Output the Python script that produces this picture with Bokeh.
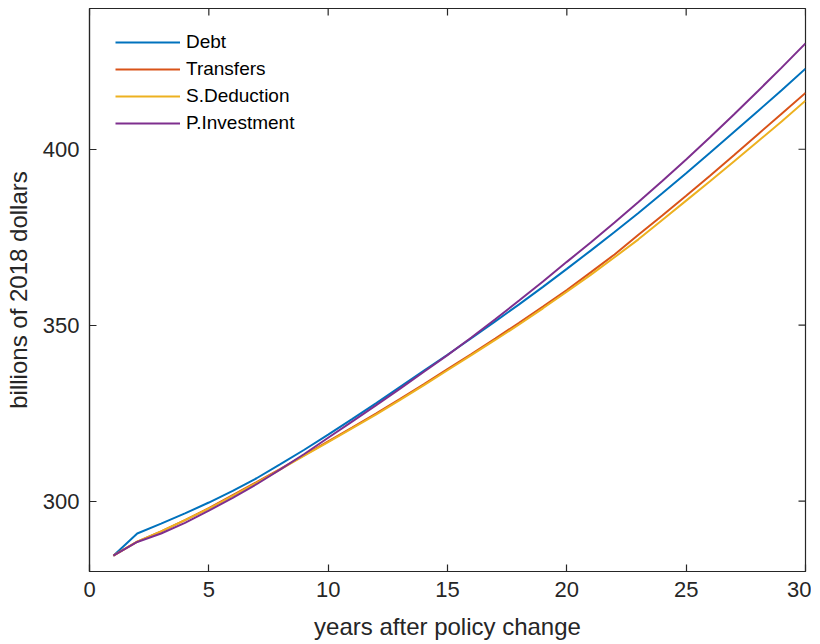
import math
from bokeh.plotting import figure
from bokeh.models import Range1d, FixedTicker, Legend, LegendItem
from bokeh.embed import file_html
from bokeh.resources import INLINE

years = list(range(1, 31))

debt = [284.5, 290.8, 293.6, 296.5, 299.6, 302.9, 306.5, 310.5, 314.6, 318.9,
        323.3, 327.8, 332.4, 337.0, 341.6, 346.3, 351.1, 355.9, 360.9, 366.0,
        371.2, 376.5, 381.9, 387.5, 393.2, 399.0, 404.9, 410.8, 416.8, 422.9]
transfers = [284.5, 288.5, 291.4, 294.6, 298.0, 301.7, 305.4, 309.2, 313.1, 317.0,
             320.9, 324.9, 329.0, 333.2, 337.5, 341.8, 346.2, 350.7, 355.3, 360.0,
             365.0, 370.1, 375.7, 381.2, 386.8, 392.5, 398.3, 404.2, 410.1, 416.0]
s_deduction = [284.5, 288.5, 291.4, 294.6, 297.9, 301.5, 305.2, 309.0, 312.9, 316.8,
               320.7, 324.6, 328.7, 332.9, 337.2, 341.5, 345.8, 350.2, 354.8, 359.5,
               364.3, 369.3, 374.4, 379.9, 385.4, 390.9, 396.5, 402.2, 407.9, 413.8]
p_investment = [284.5, 288.4, 290.8, 293.8, 297.3, 300.9, 304.8, 309.0, 313.4, 318.0,
                322.6, 327.2, 331.9, 336.7, 341.5, 346.5, 351.7, 357.0, 362.4, 368.0,
                373.5, 379.2, 385.0, 391.0, 397.1, 403.4, 409.9, 416.5, 423.2, 430.1]

series_names = ["Debt", "Transfers", "S.Deduction", "P.Investment"]
series_values = [debt, transfers, s_deduction, p_investment]
colors = ["#0072BD", "#D95319", "#EDB120", "#7E2F8E"]

x_ticks = [0, 5, 10, 15, 20, 25, 30]
y_ticks = [300, 350, 400]
x_min, x_max = 0, 30
y_min, y_max = 280, 440

FONT = "Liberation Sans"
AX = "#262626"
TICK_LEN = 7

p = figure(width=811, height=643, output_backend="svg", toolbar_location=None,
           x_range=Range1d(x_min, x_max), y_range=Range1d(y_min, y_max),
           min_border_left=89, min_border_right=6, min_border_top=8, min_border_bottom=72)
p.grid.visible = False
p.outline_line_color = AX
p.outline_line_width = 1.2

items = []
for name, vals, c in zip(series_names, series_values, colors):
    r = p.line(years, vals, line_color=c, line_width=2)
    items.append(LegendItem(label=name, renderers=[r]))

for ax, ticks in ((p.xaxis[0], x_ticks), (p.yaxis[0], y_ticks)):
    ax.ticker = FixedTicker(ticks=ticks)
    ax.major_tick_in = TICK_LEN
    ax.major_tick_out = 0
    ax.minor_tick_line_color = None
    ax.axis_line_color = AX
    ax.major_tick_line_color = AX
    ax.major_tick_line_width = 1.2
    ax.axis_line_width = 1.2
    ax.major_label_text_font = FONT
    ax.major_label_text_font_size = "22px"
    ax.major_label_text_color = AX
    ax.axis_label_text_font = FONT
    ax.axis_label_text_font_size = "24px"
    ax.axis_label_text_font_style = "normal"
    ax.axis_label_text_color = AX
    ax.major_label_standoff = 10

p.xaxis[0].axis_label = "years after policy change"
p.xaxis[0].axis_label_standoff = 13
p.yaxis[0].axis_label = "billions of 2018 dollars"
p.yaxis[0].axis_label_standoff = 8

# inward ticks on the top and right edges of the box (MATLAB "box on")
p.ray(x=x_ticks, y=[y_max] * len(x_ticks), length=TICK_LEN, length_units="screen",
      angle=-math.pi / 2, line_color=AX, line_width=1.2)
p.ray(x=[x_max] * len(y_ticks), y=y_ticks, length=TICK_LEN, length_units="screen",
      angle=math.pi, line_color=AX, line_width=1.2)

legend = Legend(items=items, location=(26, 437))
legend.label_text_font = FONT
legend.label_text_font_size = "19px"
legend.label_text_color = "#000000"
legend.glyph_width = 65
legend.glyph_height = 20
legend.label_height = 20
legend.label_standoff = 6
legend.spacing = 5
legend.padding = 0
legend.margin = 0
legend.border_line_color = None
legend.background_fill_alpha = 0
p.add_layout(legend)

open("out.html", "w").write(file_html(p, INLINE))
